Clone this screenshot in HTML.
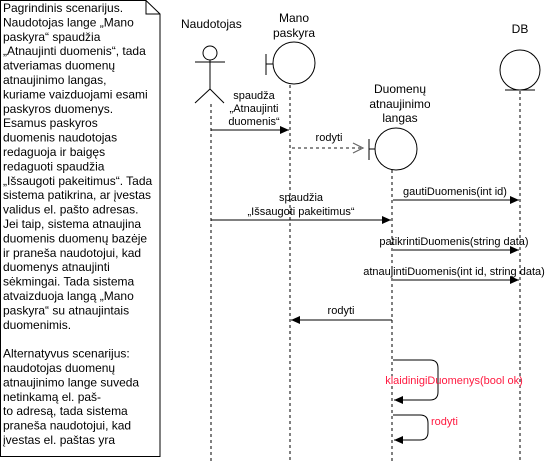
<!DOCTYPE html>
<html><head><meta charset="utf-8"><style>
html,body{margin:0;padding:0;background:#fff;}
svg{display:block;font-family:"Liberation Sans",Arial,sans-serif;font-size:12px;}
.m{font-size:11px;}
</style></head><body>
<svg width="552" height="462" viewBox="0 0 552 462" xmlns="http://www.w3.org/2000/svg">
<defs>
<marker id="fa" markerWidth="10" markerHeight="10" refX="9" refY="5" orient="auto" markerUnits="userSpaceOnUse"><path d="M0,1 L9,5 L0,9 Z" fill="#000"/></marker>
<clipPath id="cl"><rect x="350" y="70" width="80" height="60"/></clipPath>
</defs>
<path d="M0.5,0.5 H146 L160,14 V456.5 H0.5 Z" fill="#fff" stroke="#000"/>
<path d="M146,0.5 V14 H160" fill="none" stroke="#000"/>
<g fill="#000">
<text x="3" y="12">Pagrindinis scenarijus.</text>
<text x="3" y="26.4">Naudotojas lange „Mano</text>
<text x="3" y="40.8">paskyra“ spaudžia</text>
<text x="3" y="55.2">„Atnaujinti duomenis“, tada</text>
<text x="3" y="69.6">atveriamas duomenų</text>
<text x="3" y="84">atnaujinimo langas,</text>
<text x="3" y="98.4">kuriame vaizduojami esami</text>
<text x="3" y="112.8">paskyros duomenys.</text>
<text x="3" y="127.2">Esamus paskyros</text>
<text x="3" y="141.6">duomenis naudotojas</text>
<text x="3" y="156">redaguoja ir baigęs</text>
<text x="3" y="170.4">redaguoti spaudžia</text>
<text x="3" y="184.8">„Išsaugoti pakeitimus“. Tada</text>
<text x="3" y="199.2">sistema patikrina, ar įvestas</text>
<text x="3" y="213.6">validus el. pašto adresas.</text>
<text x="3" y="228">Jei taip, sistema atnaujina</text>
<text x="3" y="242.4">duomenis duomenų bazėje</text>
<text x="3" y="256.8">ir praneša naudotojui, kad</text>
<text x="3" y="271.2">duomenys atnaujinti</text>
<text x="3" y="285.6">sėkmingai. Tada sistema</text>
<text x="3" y="300">atvaizduoja langą „Mano</text>
<text x="3" y="314.4">paskyra“ su atnaujintais</text>
<text x="3" y="328.8">duomenimis.</text>
<text x="3" y="357.6">Alternatyvus scenarijus:</text>
<text x="3" y="372">naudotojas duomenų</text>
<text x="3" y="386.4">atnaujinimo lange suveda</text>
<text x="3" y="400.8">netinkamą el. paš-</text>
<text x="3" y="415.2">to adresą, tada sistema</text>
<text x="3" y="429.6">praneša naudotojui, kad</text>
<text x="3" y="444">įvestas el. paštas yra</text>
</g>
<text x="181" y="28">Naudotojas</text>
<circle cx="210" cy="53" r="7" fill="#fff" stroke="#000"/>
<line x1="195" y1="62" x2="225" y2="62" stroke="#000"/>
<line x1="210" y1="60" x2="210" y2="89" stroke="#000"/>
<line x1="210" y1="89" x2="195" y2="103" stroke="#000"/>
<line x1="210" y1="89" x2="224" y2="103" stroke="#000"/>
<text x="294" y="22" text-anchor="middle">Mano</text>
<text x="294" y="37" text-anchor="middle">paskyra</text>
<line x1="266" y1="54" x2="266" y2="75" stroke="#000"/>
<line x1="266" y1="64" x2="273" y2="64" stroke="#000"/>
<circle cx="294" cy="63" r="21" fill="#fff" stroke="#000"/>
<g clip-path="url(#cl)">
<text x="400" y="93" text-anchor="middle">Duomenų</text>
<text x="400" y="108" text-anchor="middle">atnaujinimo</text>
<text x="400" y="122" text-anchor="middle">langas</text>
</g>
<line x1="369" y1="139" x2="369" y2="160" stroke="#000"/>
<line x1="369" y1="149" x2="375" y2="149" stroke="#000"/>
<circle cx="396" cy="149" r="21" fill="#fff" stroke="#000"/>
<text x="520" y="33" text-anchor="middle">DB</text>
<circle cx="520" cy="70" r="20" fill="#fff" stroke="#000"/>
<line x1="505" y1="90" x2="535" y2="90" stroke="#000"/>
<g stroke="#000" stroke-dasharray="3,3">
<line x1="211" y1="104" x2="211" y2="462"/>
<line x1="290" y1="85" x2="290" y2="462"/>
<line x1="392" y1="170" x2="392" y2="462"/>
<line x1="520" y1="91" x2="520" y2="462"/>
</g>
<g stroke="#000" fill="none">
<line x1="211" y1="130" x2="289" y2="130" marker-end="url(#fa)"/>
<line x1="292" y1="148" x2="362" y2="148" stroke="#666" stroke-width="1.5" stroke-dasharray="3,3"/>
<path d="M353,143 L363,148 L353,153" stroke="#666" stroke-width="1.2"/>
<line x1="393" y1="200" x2="519" y2="200" marker-end="url(#fa)"/>
<line x1="211" y1="220" x2="391" y2="220" marker-end="url(#fa)"/>
<line x1="393" y1="250" x2="519" y2="250" marker-end="url(#fa)"/>
<line x1="393" y1="280" x2="519" y2="280" marker-end="url(#fa)"/>
<line x1="392" y1="320" x2="291" y2="320" marker-end="url(#fa)"/>
<path d="M393,360 H430 Q438,360 438,368 V392 Q438,400 430,400 H394" marker-end="url(#fa)"/>
<path d="M393,415 H420 Q428,415 428,423 V432 Q428,440 420,440 H394" marker-end="url(#fa)"/>
</g>
<g fill="#000" text-anchor="middle" class="m">
<text x="254" y="99">spaudža</text>
<text x="254" y="112">„Atnaujinti</text>
<text x="254" y="125">duomenis“</text>
<text x="329" y="141">rodyti</text>
<text x="455" y="195">gautiDuomenis(int id)</text>
<text x="301" y="201">spaudžia</text>
<text x="301" y="215">„Išsaugoti pakeitimus“</text>
<text x="454" y="245">patikrintiDuomenis(string data)</text>
<text x="454" y="275">atnaujintiDuomenis(int id, string data)</text>
<text x="341" y="314">rodyti</text>
</g>
<text x="454" y="384" text-anchor="middle" fill="#ff1a40" class="m">klaidinigiDuomenys(bool ok)</text>
<text x="431" y="425" fill="#ff1a40" class="m">rodyti</text>
</svg>
</body></html>
